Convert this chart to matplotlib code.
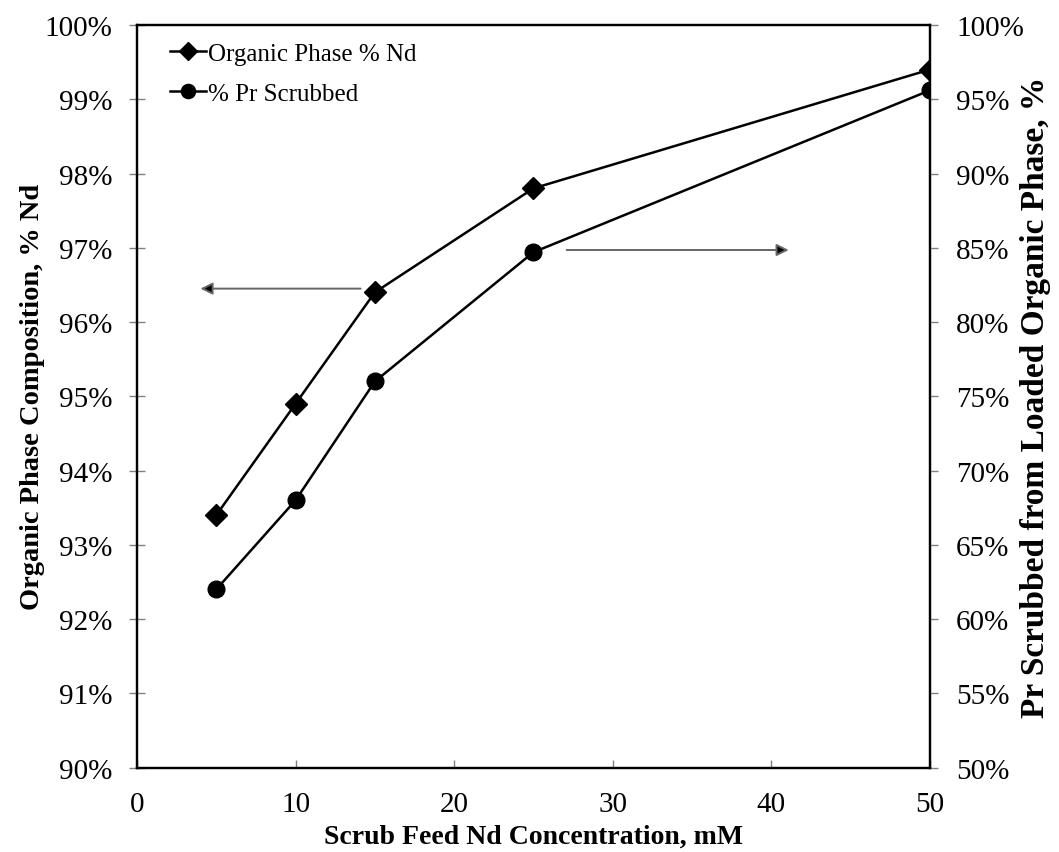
import matplotlib
matplotlib.use("Agg")
import matplotlib.pyplot as plt
from matplotlib.ticker import FuncFormatter, MultipleLocator

plt.rcParams['font.family'] = ['Liberation Serif', 'DejaVu Serif']

# scrub feed Nd concentration (mM)
feed_nd = [5, 10, 15, 25, 50]
# organic phase composition, % Nd (left axis)
organic_nd = [93.4, 94.9, 96.4, 97.8, 99.4]
# Pr scrubbed from loaded organic phase, % (right axis)
pr_scrubbed = [62.0, 68.0, 76.0, 84.7, 95.6]

fig = plt.figure(figsize=(10.59, 8.53), dpi=100)
ax = fig.add_axes([0.1294, 0.099, 0.7486, 0.8705])
ax2 = ax.twinx()

pct = FuncFormatter(lambda v, p: f"{v:.0f}%")
tick_gray = '#808080'

ax.plot(feed_nd, organic_nd, color='black', lw=1.8, marker='D', ms=11,
        label='Organic Phase % Nd', zorder=3)
ax2.plot(feed_nd, pr_scrubbed, color='black', lw=1.8, marker='o', ms=12,
         label='% Pr Scrubbed', zorder=3)

ax.set_xlim(0, 50)
ax.set_ylim(90, 100)
ax2.set_ylim(50, 100)
ax.xaxis.set_major_locator(MultipleLocator(10))
ax.yaxis.set_major_locator(MultipleLocator(1))
ax2.yaxis.set_major_locator(MultipleLocator(5))
ax.yaxis.set_major_formatter(pct)
ax2.yaxis.set_major_formatter(pct)

ax.tick_params(axis='y', direction='inout', length=12, width=1, color=tick_gray,
               labelsize=21, pad=11.5)
ax.tick_params(axis='x', direction='in', length=6, width=1, color=tick_gray,
               labelsize=21, pad=17)
ax2.tick_params(axis='y', direction='out', length=6, width=1, color=tick_gray,
                labelsize=21, pad=13)

for a in (ax, ax2):
    for s in a.spines.values():
        s.set_linewidth(1.6)

ax.set_xlabel('Scrub Feed Nd Concentration, mM', fontsize=20, fontweight='bold',
              labelpad=4.5)
ax.set_ylabel('Organic Phase Composition, % Nd', fontsize=20.5, fontweight='bold',
              labelpad=0)
ax2.set_ylabel('Pr Scrubbed from Loaded Organic Phase, %', fontsize=24,
               fontweight='bold')
ax2.yaxis.set_label_coords(1.114, 0.5)

# arrows pointing each curve to its axis
arrow_kw = dict(arrowstyle='-|>', ec='#666666', fc='black', lw=1.4,
                mutation_scale=18, shrinkA=0, shrinkB=0)
ax.annotate('', xy=(4.0, 96.45), xytext=(14.1, 96.45), arrowprops=arrow_kw)
ax.annotate('', xy=(41.1, 96.97), xytext=(27.1, 96.97), arrowprops=arrow_kw)

h1, l1 = ax.get_legend_handles_labels()
h2, l2 = ax2.get_legend_handles_labels()
ax.legend(h1 + h2, l1 + l2, loc='upper left', frameon=False, fontsize=18,
          handlelength=1.45, handletextpad=0.1, labelspacing=0.72,
          borderaxespad=0.28, bbox_to_anchor=(0.0196, 1.0), markerscale=0.85)

fig.savefig('out.png', dpi=100)
